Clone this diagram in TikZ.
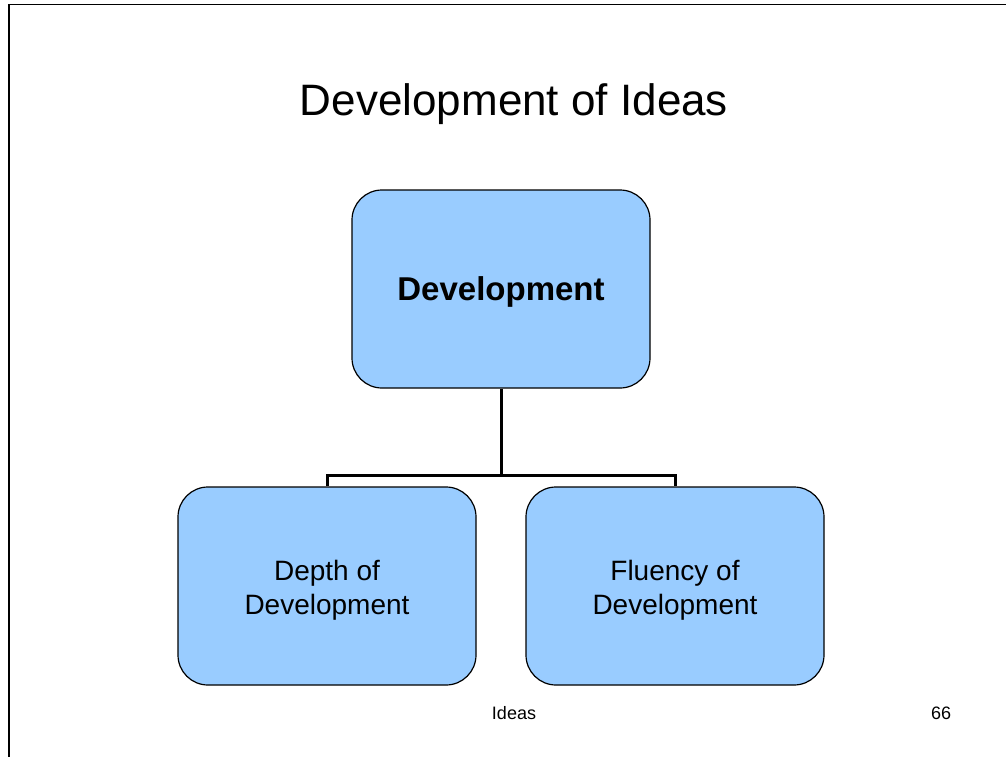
\documentclass[tikz,border=0pt]{standalone}
\usepackage{fontspec}
\setmainfont{Liberation Sans}
\definecolor{boxblue}{HTML}{99CCFF}
\begin{document}
\begin{tikzpicture}[x=1pt,y=-1pt,
  orgbox/.style={draw=black, line width=1.2pt, fill=boxblue, rounded corners=30pt,
    minimum width=298pt, minimum height=198pt, inner sep=0pt},
  boxtext/.style={align=center, inner sep=0pt},
  conn/.style={line width=3pt}]
\useasboundingbox (0,0) rectangle (1006,757);
\draw[line width=1.6pt] (9,757) -- (9,4.5) -- (1006,4.5);
\node[font=\fontsize{44}{50}\selectfont] (title) at (514,104) {Development of Ideas};
\node[orgbox] (top) at (501,289) {};
\node[orgbox] (left) at (327,586) {};
\node[orgbox] (right) at (675,586) {};
\node[boxtext, font=\fontsize{33}{38}\selectfont\bfseries] (toptext) at (501,292) {Development};
\node[boxtext, font=\fontsize{28}{34}\selectfont] (lefttext) at (327,590) {Depth of\\Development};
\node[boxtext, font=\fontsize{28}{34}\selectfont] (righttext) at (675,590) {Fluency of\\Development};
\coordinate (mid) at (501,475);
\draw[conn] (top.south) -- (mid);
\draw[conn] (left.north) |- (mid) -| (right.north);
\node[font=\fontsize{18}{22}\selectfont] (foot) at (514,713) {Ideas};
\node[font=\fontsize{18}{22}\selectfont] (num) at (941,713) {66};
\end{tikzpicture}
\end{document}
